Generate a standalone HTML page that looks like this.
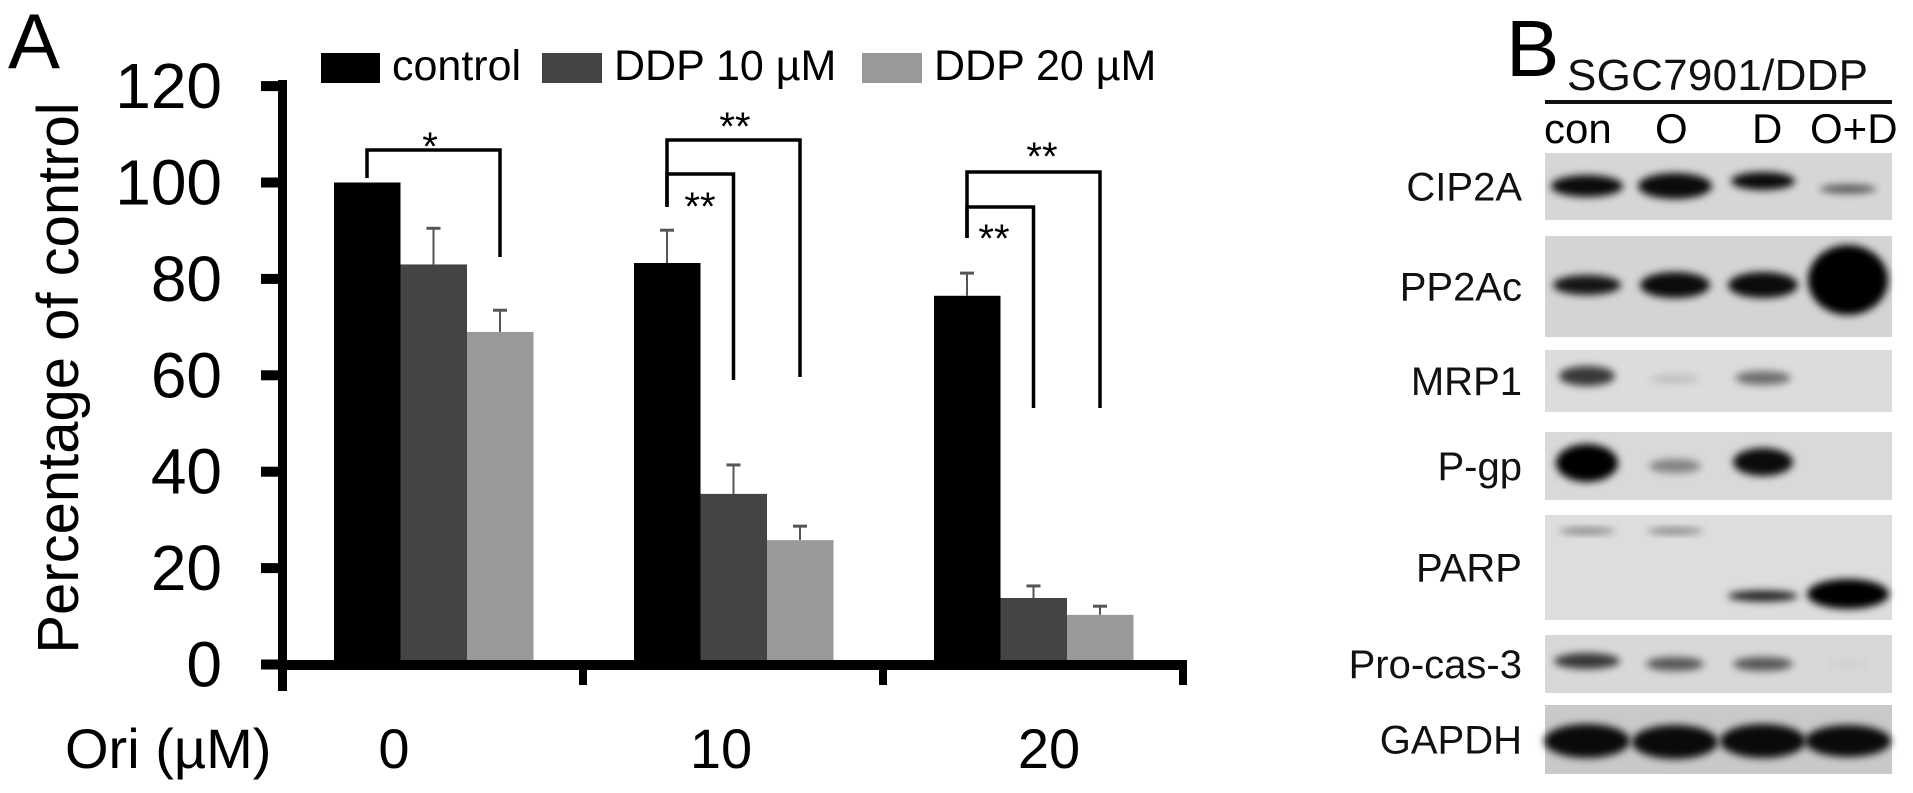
<!DOCTYPE html>
<html><head><meta charset="utf-8"><style>
html,body{margin:0;padding:0;background:#fff;}
svg{display:block;font-family:"Liberation Sans",Arial,sans-serif;}
</style></head><body>
<svg id="fig" width="1913" height="793" viewBox="0 0 1913 793" xmlns="http://www.w3.org/2000/svg">
<defs>
<filter id="blur" x="-50%" y="-100%" width="200%" height="300%"><feGaussianBlur stdDeviation="4"/></filter>
</defs>
<text x="8" y="68" font-size="78">A</text>
<text x="1506" y="76" font-size="80">B</text>
<text transform="translate(78,378) rotate(-90)" text-anchor="middle" font-size="58">Percentage of control</text>
<text x="65" y="768" font-size="56">Ori (µM)</text>
<g id="chart"></g>
<g id="legend">
 <rect x="321" y="53" width="59" height="30" fill="#000"/>
 <text x="392" y="80" font-size="43">control</text>
 <rect x="542" y="53" width="60" height="30" fill="#444"/>
 <text x="614" y="80" font-size="43">DDP 10 µM</text>
 <rect x="862" y="53" width="60" height="30" fill="#999"/>
 <text x="934" y="80" font-size="43">DDP 20 µM</text>
</g>
<g id="blot">
 <text x="1567" y="90" font-size="44" textLength="301" fill="#111">SGC7901/DDP</text>
 <rect x="1545" y="100" width="347" height="4" fill="#111"/>
 <text x="1544" y="143" font-size="42">con</text>
 <text x="1655" y="143" font-size="42">O</text>
 <text x="1752" y="143" font-size="42">D</text>
 <text x="1810" y="143" font-size="42">O+D</text>
</g>
<script>
const categories = ["0","10","20"];
const seriesNames = ["control","DDP 10 µM","DDP 20 µM"];
const controlVals = [100, 83.3, 76.5];
const ddp10Vals = [83, 35.4, 13.8];
const ddp20Vals = [69, 25.8, 10.3];
const controlErr = [0, 6.8, 4.7];
const ddp10Err = [7.5, 6.0, 2.5];
const ddp20Err = [4.5, 2.9, 1.8];
const yTicks = [0,20,40,60,80,100,120];
const sigLabels = [["*"],["**","**"],["**","**"]];

const NS="http://www.w3.org/2000/svg";
const chart=document.getElementById('chart');
const y0=664.5, pxPer=4.82;
function yScale(v){return y0-v*pxPer;}
function groupX(i){return 283+300*i;}
function barX(i,s){return groupX(i)+51+s*66.5;}
function mk(tag,attrs,parent){const e=document.createElementNS(NS,tag);for(const k in attrs)e.setAttribute(k,attrs[k]);(parent||chart).appendChild(e);return e;}

const series=[controlVals,ddp10Vals,ddp20Vals];
const errs=[controlErr,ddp10Err,ddp20Err];
const colors=["#000","#444","#999"];
const keys=["control","ddp10","ddp20"];
series.forEach((vals,s)=>{vals.forEach((v,i)=>{
  const r=mk('rect',{x:barX(i,s),y:yScale(v),width:66.5,height:y0-yScale(v),fill:colors[s]});
  
  
  const e=errs[s][i];
  if(e>0){
    const cx=barX(i,s)+33;
    const l=mk('line',{x1:cx,x2:cx,y1:yScale(v),y2:yScale(v+e),stroke:"#555","stroke-width":2});
    
    
    const c=mk('line',{x1:cx-7,x2:cx+7,y1:yScale(v+e),y2:yScale(v+e),stroke:"#555","stroke-width":3});
    
    
  }
});});

// axes
const ya=mk('rect',{x:278,y:80,width:9,height:611,fill:"#000"});


const xa=mk('rect',{x:278,y:660,width:909,height:10,fill:"#000"});


yTicks.forEach(t=>{
  const tk=mk('rect',{x:261,y:yScale(t)-5,width:22,height:10,fill:"#000"});
  
  
  const tx=mk('text',{x:222,y:yScale(t)+22,"text-anchor":"end","font-size":64});
  tx.textContent=t;
  
  
});
[1,2,3].forEach(i=>{
  const tk=mk('rect',{x:groupX(i)-4,y:662,width:8,height:23,fill:"#000"});
  
  
});
const labelX=[394,721,1049];
categories.forEach((c,i)=>{
  const t=mk('text',{x:labelX[i],y:768,"text-anchor":"middle","font-size":56});
  t.textContent=c;
  
  
});

// significance brackets
function bracket(x1,x2,top,b1,b2,label,lx,ly,name){
  const p=mk('path',{d:`M${x1},${b1}V${top}H${x2}V${b2}`,fill:"none",stroke:"#000","stroke-width":3.5});
  
  
  const t=mk('text',{x:lx,y:ly,"text-anchor":"middle","font-size":40});
  t.textContent=label;
  
  
}
const c0=barX(0,0)+33, d20_0=barX(0,2)+33;
bracket(c0,d20_0,150,178,257,sigLabels[0][0],430,160,'sig-bracket-0');
bracket(barX(1,0)+33,barX(1,2)+33,140,207,377,sigLabels[1][0],735,140,'sig-bracket-10-outer');
bracket(barX(1,0)+33,barX(1,1)+33,174,207,380,sigLabels[1][1],700,220,'sig-bracket-10-inner');
bracket(barX(2,0)+33,barX(2,2)+33,172,238,408,sigLabels[2][0],1042,170,'sig-bracket-20-outer');
bracket(barX(2,0)+33,barX(2,1)+33,207,238,408,sigLabels[2][1],994,252,'sig-bracket-20-inner');

// western blot
const blot=document.getElementById('blot');
const proteins=["CIP2A","PP2Ac","MRP1","P-gp","PARP","Pro-cas-3","GAPDH"];
const rowTop=[153,236,350,432,515,635,705];
const rowBot=[220,337,412,500,620,693,774];
const rowBg=["#d6d6d6","#d4d4d4","#dcdcdc","#d9d9d9","#dddddd","#d8d8d8","#c9c9c9"];
const laneX=[1587,1675,1763,1848];
// bands: [row, lane, centerY, width, height, opacity]
const bands=[
 [0,0,186,72,22,0.95],[0,1,186,74,26,0.95],[0,2,181,64,18,0.95],[0,3,189,56,9,0.6],
 [1,0,285,68,20,0.9],[1,1,285,70,26,0.95],[1,2,285,70,26,0.95],[1,3,280,80,70,1],
 [2,0,376,56,20,0.75],[2,1,379,50,8,0.15],[2,2,378,56,14,0.5],
 [3,0,463,62,38,1],[3,1,466,52,14,0.4],[3,2,462,60,28,0.95],
 [4,0,531,56,5,0.55],[4,1,531,56,5,0.55],[4,2,596,70,11,0.85],[4,3,594,82,30,1],
 [5,0,661,66,16,0.75],[5,1,664,58,14,0.6],[5,2,664,60,14,0.6],[5,3,664,40,6,0.05],
 [6,0,741,86,34,0.95],[6,1,742,86,34,0.95],[6,2,741,86,34,0.95],[6,3,741,86,32,0.95]
];
proteins.forEach((p,r)=>{
  const bg=mk('rect',{x:1545,y:rowTop[r],width:347,height:rowBot[r]-rowTop[r],fill:rowBg[r]},blot);
  
  
  const t=mk('text',{x:1522,y:(rowTop[r]+rowBot[r])/2+14,"text-anchor":"end","font-size":40,fill:"#111"},blot);
  t.textContent=p;
  
  
});
bands.forEach(b=>{
  const e=mk('ellipse',{cx:laneX[b[1]],cy:b[2],rx:b[3]/2,ry:b[4]/2,fill:"#000","fill-opacity":b[5],filter:"url(#blur)"},blot);
  
  
});
</script>
</svg>
</body></html>
